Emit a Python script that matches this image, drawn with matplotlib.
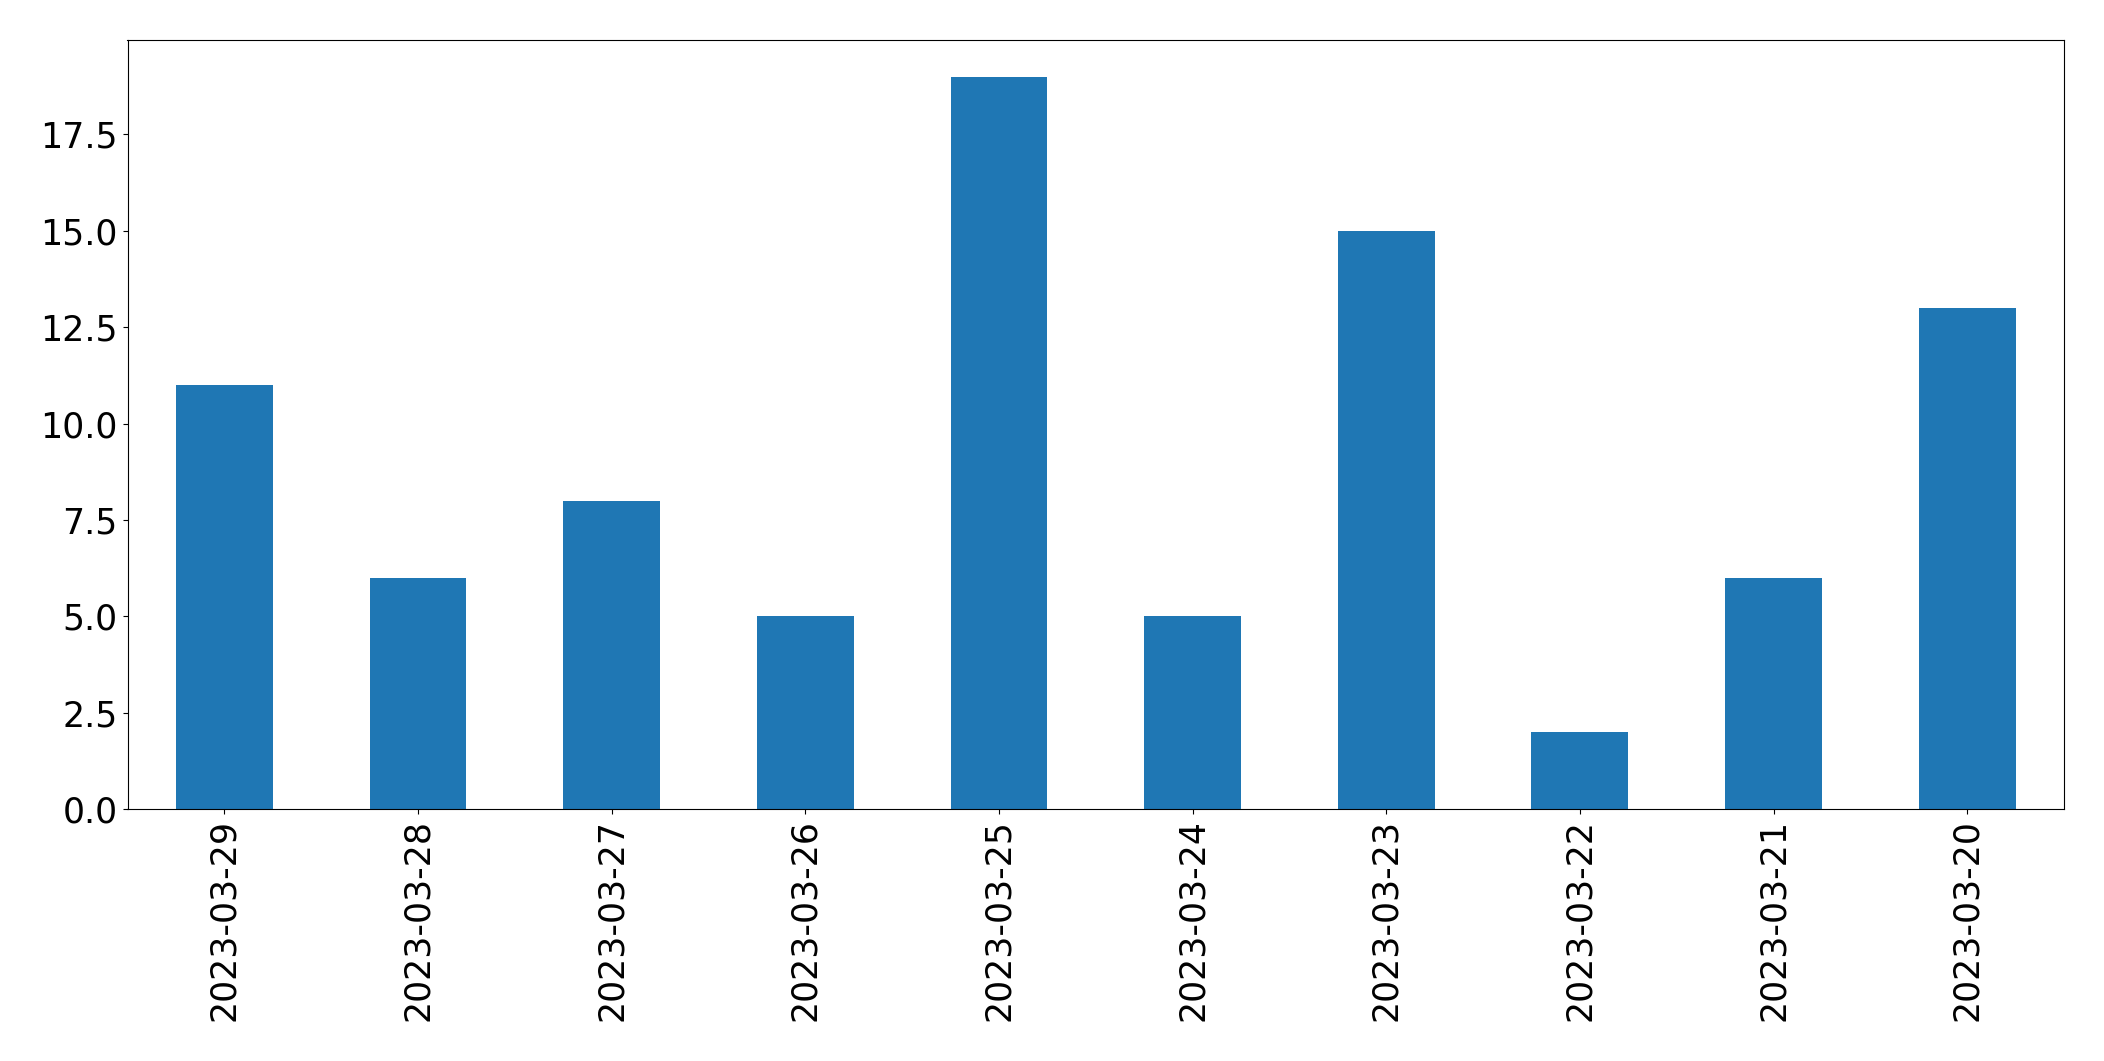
import pandas as pd
import matplotlib
matplotlib.use('Agg')
import matplotlib.pyplot as plt

dates = ['2023-03-29', '2023-03-28', '2023-03-27', '2023-03-26', '2023-03-25',
         '2023-03-24', '2023-03-23', '2023-03-22', '2023-03-21', '2023-03-20']
counts = [11, 6, 8, 5, 19, 5, 15, 2, 6, 13]

s = pd.Series(counts, index=dates)

fig = plt.figure(figsize=(21.04, 10.61), dpi=100)
ax = fig.add_axes([127.5 / 2104, 1 - 809 / 1061, (2064 - 127.5) / 2104, (809 - 40) / 1061])
s.plot(kind='bar', ax=ax, fontsize=25)

fig.savefig('out.png', dpi=100)
